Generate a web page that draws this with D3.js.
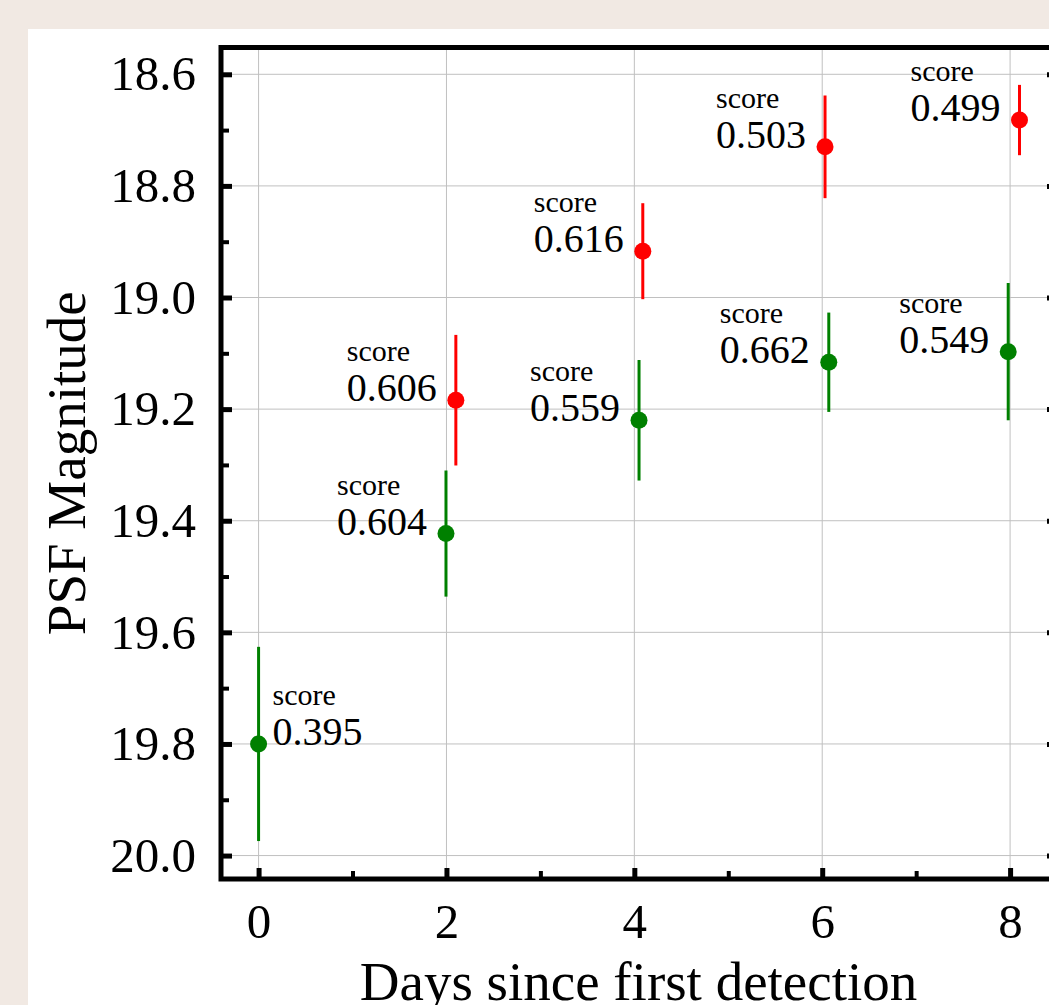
<!DOCTYPE html>
<html>
<head>
<meta charset="utf-8">
<script src="https://cdn.jsdelivr.net/npm/d3@7"></script>
<style>
    body { margin: 0; background: #f1e9e3; }
    svg { display: block; }
    .grid-line { stroke: #c0c0c0; stroke-width: 1; }
    text { font-family: "Liberation Serif", "Times New Roman", serif; fill: #000; }
</style>
</head>
<body>
<svg></svg>
<script>
// green points (days, magnitude, error, score)
let greenDays = [0, 1.995, 4.05, 6.07, 7.98];
let greenMag = [19.800, 19.423, 19.220, 19.116, 19.097];
let greenErr = [0.174, 0.113, 0.108, 0.089, 0.123];
let greenScore = ["0.395", "0.604", "0.559", "0.662", "0.549"];

// red points
let redDays = [2.10, 4.09, 6.03, 8.10];
let redMag = [19.184, 18.917, 18.730, 18.682];
let redErr = [0.117, 0.086, 0.092, 0.063];
let redScore = ["0.606", "0.616", "0.503", "0.499"];

let xTicks = [0, 2, 4, 6, 8];
let xMinor = [1, 3, 5, 7];
let yTicks = [18.6, 18.8, 19.0, 19.2, 19.4, 19.6, 19.8, 20.0];
let yMinor = [18.7, 18.9, 19.1, 19.3, 19.5, 19.7, 19.9];

let width = 1049;
let height = 1005;
let plotLeft = 221, plotRight = 1058, plotTop = 47.5, plotBottom = 879;

let svg = d3.select("svg")
    .attr("width", width)
    .attr("height", height);

// фон
svg.append("rect")
    .attr("width", width).attr("height", height)
    .attr("fill", "#f1e9e3");
svg.append("rect")
    .attr("x", 28).attr("y", 29)
    .attr("width", width).attr("height", height)
    .attr("fill", "#ffffff");

let scaleX = d3.scaleLinear()
    .domain([-0.4, 8.51])
    .range([plotLeft, plotRight]);

let scaleY = d3.scaleLinear()
    .domain([18.552, 20.042])
    .range([plotTop, plotBottom]);

function makePoints(days, mag, err, score) {
    let arr = [];
    for (let i = 0; i < days.length; i++) {
        arr.push({x: days[i], y: mag[i], e: err[i], s: score[i]});
    }
    return arr;
}
let greenData = makePoints(greenDays, greenMag, greenErr, greenScore);
let redData = makePoints(redDays, redMag, redErr, redScore);

// сетка
svg.append("g").selectAll("line")
    .data(xTicks).enter().append("line")
    .classed("grid-line", true)
    .attr("x1", d => scaleX(d)).attr("x2", d => scaleX(d))
    .attr("y1", plotTop).attr("y2", plotBottom);

svg.append("g").selectAll("line")
    .data(yTicks).enter().append("line")
    .classed("grid-line", true)
    .attr("x1", plotLeft).attr("x2", plotRight)
    .attr("y1", d => scaleY(d)).attr("y2", d => scaleY(d));

// оси
function styleAxis(g, w) {
    g.select(".domain").remove();
    g.selectAll(".tick line").attr("stroke", "#000").attr("stroke-width", w);
}

svg.append("g")
    .attr("transform", `translate(${plotLeft}, 0)`)
    .call(d3.axisLeft(scaleY).tickValues(yTicks).tickSize(-11).tickPadding(25)
        .tickFormat(d3.format(".1f")))
    .call(g => styleAxis(g, 5))
    .selectAll("text")
    .attr("font-size", 49);

svg.append("g")
    .attr("transform", `translate(${plotLeft}, 0)`)
    .call(d3.axisLeft(scaleY).tickValues(yMinor).tickSize(-8).tickFormat(""))
    .call(g => styleAxis(g, 4));

svg.append("g")
    .attr("transform", `translate(${plotRight}, 0)`)
    .call(d3.axisRight(scaleY).tickValues(yTicks).tickSize(-11).tickFormat(""))
    .call(g => styleAxis(g, 5));

svg.append("g")
    .attr("transform", `translate(${plotRight}, 0)`)
    .call(d3.axisRight(scaleY).tickValues(yMinor).tickSize(-8).tickFormat(""))
    .call(g => styleAxis(g, 4));

svg.append("g")
    .attr("transform", `translate(0, ${plotBottom})`)
    .call(d3.axisBottom(scaleX).tickValues(xTicks).tickSize(-11).tickFormat(d3.format("d")))
    .call(g => styleAxis(g, 5))
    .selectAll("text")
    .attr("font-size", 49)
    .attr("y", 59)
    .attr("dy", 0);

svg.append("g")
    .attr("transform", `translate(0, ${plotBottom})`)
    .call(d3.axisBottom(scaleX).tickValues(xMinor).tickSize(-8).tickFormat(""))
    .call(g => styleAxis(g, 4));

// d3 ставит свой шрифт на группы осей — убираем
svg.selectAll("g").attr("font-family", null).attr("font-size", null);

// рамка
svg.append("rect")
    .attr("x", plotLeft).attr("y", plotTop)
    .attr("width", plotRight - plotLeft).attr("height", plotBottom - plotTop)
    .attr("fill", "none")
    .attr("stroke", "#000")
    .attr("stroke-width", 5);

// подписи осей
svg.append("text")
    .attr("x", (plotLeft + plotRight) / 2 - 1)
    .attr("y", 1000)
    .attr("text-anchor", "middle")
    .attr("font-size", 55)
    .text("Days since first detection");

svg.append("text")
    .attr("transform", `translate(85, ${(plotTop + plotBottom) / 2}) rotate(-90)`)
    .attr("text-anchor", "middle")
    .attr("font-size", 55)
    .text("PSF Magnitude");

function drawSeries(data, color) {
    let g = svg.append("g");
    g.selectAll(".bar")
        .data(data).enter().append("line")
        .attr("x1", d => scaleX(d.x)).attr("x2", d => scaleX(d.x))
        .attr("y1", d => scaleY(d.y - d.e)).attr("y2", d => scaleY(d.y + d.e))
        .attr("stroke", color)
        .attr("stroke-width", 3);
    g.selectAll(".dot")
        .data(data).enter().append("circle")
        .attr("cx", d => scaleX(d.x))
        .attr("cy", d => scaleY(d.y))
        .attr("r", 8.5)
        .attr("fill", color);

    data.forEach(function (d) {
        let px = scaleX(d.x), py = scaleY(d.y);
        let num = svg.append("text")
            .attr("y", py + 1)
            .attr("font-size", 40)
            .text(d.s);
        let w = num.node().getComputedTextLength();
        // первая точка подписана справа, остальные слева
        let x0 = d.x < 1 ? px + 14 : px - 19 - w;
        num.attr("x", x0);
        svg.append("text")
            .attr("x", x0)
            .attr("y", py - 39)
            .attr("font-size", 30)
            .text("score");
    });
}

drawSeries(greenData, "#008000");
drawSeries(redData, "#ff0000");
</script>
</body>
</html>
